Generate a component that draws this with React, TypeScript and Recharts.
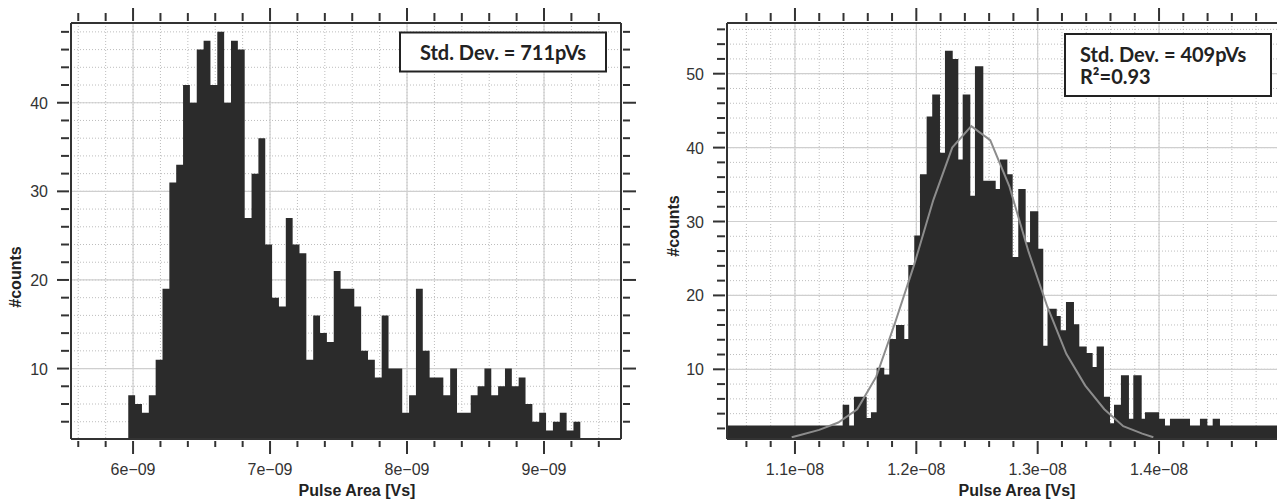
import React from 'react';
import { ComposedChart, Area, Line, XAxis, YAxis, CartesianGrid } from 'recharts';

// all x values are in units of 1e-9 Vs

// left panel: histogram, 66 bins of 0.05e-9 Vs
const LEFT_BIN_START = 5.965;
const LEFT_BIN_WIDTH = 0.05;
const LEFT_COUNTS = [
  7, 6, 5, 7, 11, 19, 31, 33, 42, 40,
  46, 47, 42, 48, 40, 47, 46, 27, 32, 36,
  24, 18, 17, 27, 24, 23, 11, 16, 14, 13,
  21, 19, 19, 17, 12, 11, 9, 16, 10, 10,
  5, 7, 19, 12, 9, 9, 7, 10, 5, 5,
  7, 8, 10, 7, 8, 10, 8, 9, 6, 4,
  5, 3, 4, 5, 3, 4,
];

// right panel: histogram with uneven bin edges
const RIGHT_EDGES = [
  10.44, 11.393, 11.447, 11.486, 11.591, 11.626, 11.673, 11.736, 11.777, 11.832,
  11.901, 11.934, 11.983, 12.03, 12.085, 12.131, 12.195, 12.236, 12.3, 12.346,
  12.382, 12.445, 12.483, 12.552, 12.654, 12.689, 12.75, 12.794, 12.84, 12.901,
  12.937, 13.005, 13.046, 13.081, 13.157, 13.19, 13.233, 13.299, 13.343, 13.404,
  13.453, 13.486, 13.546, 13.596, 13.629, 13.686, 13.752, 13.788, 13.857, 13.884,
  14.0, 14.049, 14.09, 14.255, 14.337, 14.398, 14.442, 14.502, 14.972,
];
const RIGHT_COUNTS = [
  2.4, 5.2, 2.4, 6.3, 3.4, 4.2, 10.2, 9.3, 14.1, 16.0,
  14.1, 24.1, 28.1, 36.4, 44.2, 47.2, 39.3, 53.1, 52.0, 38.4,
  47.2, 33.5, 51.0, 35.5, 34.4, 38.4, 36.4, 25.2, 34.4, 27.2,
  31.4, 26.3, 13.2, 18.2, 17.2, 15.3, 19.1, 16.1, 13.1, 12.2,
  10.3, 13.1, 6.3, 2.7, 5.2, 9.2, 3.3, 9.2, 3.3, 4.2,
  3.3, 2.4, 3.3, 2.4, 3.3, 2.4, 3.3, 2.4,
];

// gaussian fit drawn on the right panel
const FIT_X = [
  10.973, 11.044, 11.2, 11.357, 11.513, 11.67, 11.827, 11.983, 12.14, 12.296,
  12.453, 12.609, 12.766, 12.923, 13.079, 13.236, 13.392, 13.549, 13.705, 13.862, 13.953,
];
const FIT_Y = [
  0.8, 1.1, 1.8, 2.8, 4.6, 9.0, 16.4, 24.2, 32.9, 40.0,
  42.9, 41.0, 34.8, 26.0, 18.5, 12.1, 7.8, 4.6, 2.3, 1.3, 0.8,
];

// axes
const LEFT_X_DOMAIN = [5.547, 9.562];
const LEFT_Y_DOMAIN = [2.05, 49.0];
const LEFT_X_TICKS = [5.6, 5.8, 6, 6.2, 6.4, 6.6, 6.8, 7, 7.2, 7.4, 7.6, 7.8, 8, 8.2, 8.4, 8.6, 8.8, 9, 9.2, 9.4];
const LEFT_X_MAJOR = [6, 7, 8, 9];
const LEFT_X_LABELS = ['6e\u221209', '7e\u221209', '8e\u221209', '9e\u221209'];
const LEFT_Y_TICKS = [4, 6, 8, 10, 12, 14, 16, 18, 20, 22, 24, 26, 28, 30, 32, 34, 36, 38, 40, 42, 44, 46, 48];
const LEFT_Y_MAJOR = [10, 20, 30, 40];

const RIGHT_X_DOMAIN = [10.44, 14.972];
const RIGHT_Y_DOMAIN = [0.57, 56.86];
const RIGHT_X_TICKS = [10.6, 10.8, 11, 11.2, 11.4, 11.6, 11.8, 12, 12.2, 12.4, 12.6, 12.8, 13, 13.2, 13.4, 13.6, 13.8, 14, 14.2, 14.4, 14.6, 14.8];
const RIGHT_X_MAJOR = [11, 12, 13, 14];
const RIGHT_X_LABELS = ['1.1e\u221208', '1.2e\u221208', '1.3e\u221208', '1.4e\u221208'];
const RIGHT_Y_TICKS = [2, 4, 6, 8, 10, 12, 14, 16, 18, 20, 22, 24, 26, 28, 30, 32, 34, 36, 38, 40, 42, 44, 46, 48, 50, 52, 54, 56];
const RIGHT_Y_MAJOR = [10, 20, 30, 40, 50];

const AXIS = '#333';
const FONT = '"Liberation Sans", Arial, sans-serif';
const BAR_FILL = '#2b2b2b';

const leftSteps = [
  ...LEFT_COUNTS.map((c, i) => ({ x: LEFT_BIN_START + i * LEFT_BIN_WIDTH, y: c })),
  { x: LEFT_BIN_START + LEFT_COUNTS.length * LEFT_BIN_WIDTH, y: LEFT_COUNTS[LEFT_COUNTS.length - 1] },
];
const rightSteps = RIGHT_EDGES.map((e, i) => ({ x: e, y: RIGHT_COUNTS[Math.min(i, RIGHT_COUNTS.length - 1)] }));
const fitData = FIT_X.map((x, i) => ({ x, y: FIT_Y[i] }));

const idxOf = (arr: number[], v: number) => arr.findIndex((m) => Math.abs(m - v) < 1e-6);

const xTick = (side: 'top' | 'bottom', majors: number[], labels: string[]) => (props: any) => {
  const { x, y, payload } = props;
  const i = idxOf(majors, payload.value);
  const len = i >= 0 ? 13 : side === 'bottom' ? 6 : 8;
  const dir = side === 'bottom' ? 1 : -1;
  return (
    <g>
      <line x1={x} x2={x} y1={y} y2={y + dir * len} stroke={AXIS} strokeWidth={2} />
      {side === 'bottom' && i >= 0 && (
        <text x={x} y={y + 34} textAnchor="middle" fontSize={16} fill="#333" fontFamily={FONT}>
          {labels[i]}
        </text>
      )}
    </g>
  );
};

const yTick = (side: 'left' | 'right', majors: number[]) => (props: any) => {
  const { x, y, payload } = props;
  const i = idxOf(majors, payload.value);
  const len = side === 'left' ? (i >= 0 ? 12 : 8) : i >= 0 ? 13 : 7;
  const dir = side === 'left' ? -1 : 1;
  return (
    <g>
      <line x1={x} x2={x + dir * len} y1={y} y2={y} stroke={AXIS} strokeWidth={2} />
      {side === 'left' && i >= 0 && (
        <text x={x - 21} y={y + 6} textAnchor="end" fontSize={16} fill="#333" fontFamily={FONT}>
          {payload.value}
        </text>
      )}
    </g>
  );
};

const axisLine = { stroke: AXIS, strokeWidth: 2 };

const LeftPanel = () => (
  <ComposedChart width={640} height={500} margin={{ top: 0, right: 0, bottom: 0, left: 0 }}>
    <CartesianGrid stroke="#bdbdbd" strokeDasharray="1 2" verticalValues={LEFT_X_TICKS} horizontalValues={LEFT_Y_TICKS} />
    <CartesianGrid stroke="#cfcfcf" strokeWidth={1.2} verticalValues={LEFT_X_MAJOR} horizontalValues={LEFT_Y_MAJOR} />
    <Area
      data={leftSteps}
      dataKey="y"
      type="stepAfter"
      fill={BAR_FILL}
      fillOpacity={1}
      stroke="none"
      baseValue="dataMin"
      isAnimationActive={false}
    />
    <XAxis
      dataKey="x"
      type="number"
      domain={LEFT_X_DOMAIN}
      allowDataOverflow
      ticks={LEFT_X_TICKS}
      interval={0}
      height={61}
      tickSize={0}
      tickLine={false}
      axisLine={axisLine}
      tick={xTick('bottom', LEFT_X_MAJOR, LEFT_X_LABELS)}
    />
    <XAxis
      xAxisId="top"
      orientation="top"
      dataKey="x"
      type="number"
      domain={LEFT_X_DOMAIN}
      allowDataOverflow
      ticks={LEFT_X_TICKS}
      interval={0}
      height={23}
      tickSize={0}
      tickLine={false}
      axisLine={axisLine}
      tick={xTick('top', LEFT_X_MAJOR, [])}
    />
    <YAxis
      type="number"
      domain={LEFT_Y_DOMAIN}
      allowDataOverflow
      ticks={LEFT_Y_TICKS}
      interval={0}
      width={71}
      tickSize={0}
      tickLine={false}
      axisLine={axisLine}
      tick={yTick('left', LEFT_Y_MAJOR)}
    />
    <YAxis
      yAxisId="right"
      orientation="right"
      type="number"
      domain={LEFT_Y_DOMAIN}
      allowDataOverflow
      ticks={LEFT_Y_TICKS}
      interval={0}
      width={19}
      tickSize={0}
      tickLine={false}
      axisLine={axisLine}
      tick={yTick('right', LEFT_Y_MAJOR)}
    />
  </ComposedChart>
);

const RightPanel = () => (
  <ComposedChart width={637} height={500} margin={{ top: 0, right: 0, bottom: 0, left: 0 }}>
    <CartesianGrid stroke="#bdbdbd" strokeDasharray="1 2" verticalValues={RIGHT_X_TICKS} horizontalValues={RIGHT_Y_TICKS} />
    <CartesianGrid stroke="#cfcfcf" strokeWidth={1.2} verticalValues={RIGHT_X_MAJOR} horizontalValues={RIGHT_Y_MAJOR} />
    <Area
      data={rightSteps}
      dataKey="y"
      type="stepAfter"
      fill={BAR_FILL}
      fillOpacity={1}
      stroke="none"
      baseValue="dataMin"
      isAnimationActive={false}
    />
    <Line
      data={fitData}
      dataKey="y"
      type="linear"
      stroke="#8c8c8c"
      strokeWidth={2}
      dot={false}
      isAnimationActive={false}
    />
    <XAxis
      dataKey="x"
      type="number"
      domain={RIGHT_X_DOMAIN}
      allowDataOverflow
      ticks={RIGHT_X_TICKS}
      interval={0}
      height={61}
      tickSize={0}
      tickLine={false}
      axisLine={axisLine}
      tick={xTick('bottom', RIGHT_X_MAJOR, RIGHT_X_LABELS)}
    />
    <XAxis
      xAxisId="top"
      orientation="top"
      dataKey="x"
      type="number"
      domain={RIGHT_X_DOMAIN}
      allowDataOverflow
      ticks={RIGHT_X_TICKS}
      interval={0}
      height={23}
      tickSize={0}
      tickLine={false}
      axisLine={axisLine}
      tick={xTick('top', RIGHT_X_MAJOR, [])}
    />
    <YAxis
      type="number"
      domain={RIGHT_Y_DOMAIN}
      allowDataOverflow
      ticks={RIGHT_Y_TICKS}
      interval={0}
      width={87}
      tickSize={0}
      tickLine={false}
      axisLine={axisLine}
      tick={yTick('left', RIGHT_Y_MAJOR)}
    />
  </ComposedChart>
);

export default function App() {
  const title = { fontFamily: FONT, fontWeight: 700, fontSize: 16, fill: '#222' } as const;
  const boxText = { fontFamily: 'Lato, "Open Sans", sans-serif', fontWeight: 700, fontSize: 20, fill: '#222' } as const;
  return (
    <div style={{ position: 'absolute', left: 0, top: 0, width: 1277, height: 500, overflow: 'hidden', background: '#fff' }}>
      <div style={{ position: 'absolute', left: 0, top: 0 }}>
        <LeftPanel />
      </div>
      <div style={{ position: 'absolute', left: 640, top: 0 }}>
        <RightPanel />
      </div>
      <svg width={1277} height={500} style={{ position: 'absolute', left: 0, top: 0, pointerEvents: 'none' }}>
        <text x={357} y={496} textAnchor="middle" {...title}>Pulse Area [Vs]</text>
        <text x={1017} y={496} textAnchor="middle" {...title}>Pulse Area [Vs]</text>
        <text transform="translate(21 277) rotate(-90)" textAnchor="middle" {...title}>#counts</text>
        <text transform="translate(679 226) rotate(-90)" textAnchor="middle" {...title}>#counts</text>

        <rect x={400} y={32.5} width={206} height={39} fill="#fff" stroke="#222" strokeWidth={2} />
        <text x={503} y={60} textAnchor="middle" {...boxText}>Std. Dev. = 711pVs</text>

        <rect x={1065} y={34} width={206} height={62} fill="#fff" stroke="#222" strokeWidth={2} />
        <text x={1080} y={61.5} {...boxText}>Std. Dev. = 409pVs</text>
        <text x={1080} y={84} {...boxText}>R²=0.93</text>
      </svg>
    </div>
  );
}
